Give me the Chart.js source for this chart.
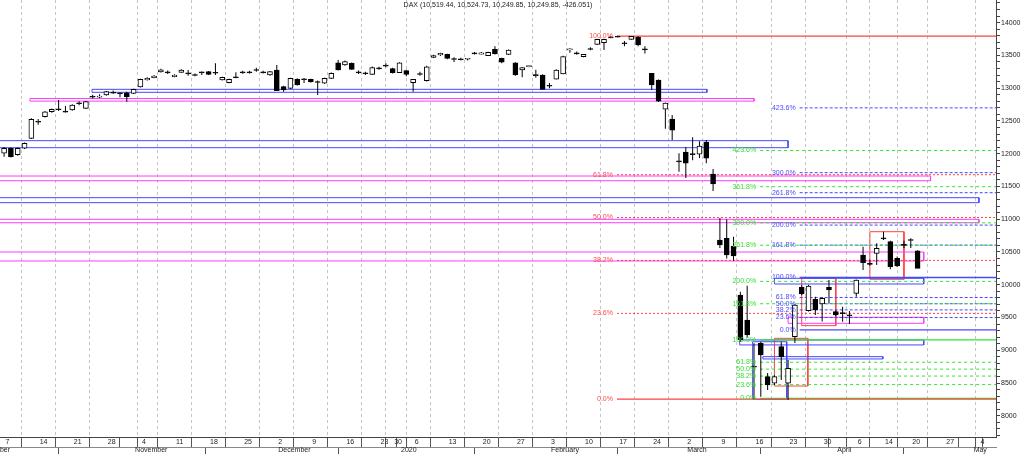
<!DOCTYPE html>
<html>
<head>
<meta charset="utf-8">
<script src="https://cdn.jsdelivr.net/npm/chart.js@4.4.1/dist/chart.umd.min.js"></script>
<style>
  html, body { margin: 0; padding: 0; background: #fff; }
  canvas { display: block; }
</style>
</head>
<body>
<canvas id="chart" width="1024" height="454"></canvas>
<script>
const FONT_FAMILY = '"Liberation Sans", Arial, sans-serif';
const titleText = 'DAX (10,519.44, 10,524.73, 10,249.85, 10,249.85, -426.051)';

// trading days, one candle each (x = position in this list)
const tradingDays = [
    'Oct 7', 'Oct 8', 'Oct 9', 'Oct 10', 'Oct 11', 'Oct 14', 'Oct 15', 'Oct 16', 'Oct 17', 'Oct 18',
    'Oct 21', 'Oct 22', 'Oct 23', 'Oct 24', 'Oct 25', 'Oct 28', 'Oct 29', 'Oct 30', 'Oct 31', 'Nov 1',
    'Nov 4', 'Nov 5', 'Nov 6', 'Nov 7', 'Nov 8', 'Nov 11', 'Nov 12', 'Nov 13', 'Nov 14', 'Nov 15',
    'Nov 18', 'Nov 19', 'Nov 20', 'Nov 21', 'Nov 22', 'Nov 25', 'Nov 26', 'Nov 27', 'Nov 28', 'Nov 29',
    'Dec 2', 'Dec 3', 'Dec 4', 'Dec 5', 'Dec 6', 'Dec 9', 'Dec 10', 'Dec 11', 'Dec 12', 'Dec 13',
    'Dec 16', 'Dec 17', 'Dec 18', 'Dec 19', 'Dec 20', 'Dec 23', 'Dec 27', 'Dec 30', 'Jan 2', 'Jan 3',
    'Jan 6', 'Jan 7', 'Jan 8', 'Jan 9', 'Jan 10', 'Jan 13', 'Jan 14', 'Jan 15', 'Jan 16', 'Jan 17',
    'Jan 20', 'Jan 21', 'Jan 22', 'Jan 23', 'Jan 24', 'Jan 27', 'Jan 28', 'Jan 29', 'Jan 30', 'Jan 31',
    'Feb 3', 'Feb 4', 'Feb 5', 'Feb 6', 'Feb 7', 'Feb 10', 'Feb 11', 'Feb 12', 'Feb 13', 'Feb 14',
    'Feb 17', 'Feb 18', 'Feb 19', 'Feb 20', 'Feb 21', 'Feb 24', 'Feb 25', 'Feb 26', 'Feb 27', 'Feb 28',
    'Mar 2', 'Mar 3', 'Mar 4', 'Mar 5', 'Mar 6', 'Mar 9', 'Mar 10', 'Mar 11', 'Mar 12', 'Mar 13',
    'Mar 16', 'Mar 17', 'Mar 18', 'Mar 19', 'Mar 20', 'Mar 23', 'Mar 24', 'Mar 25', 'Mar 26', 'Mar 27',
    'Mar 30', 'Mar 31', 'Apr 1', 'Apr 2', 'Apr 3', 'Apr 6', 'Apr 7', 'Apr 8', 'Apr 9', 'Apr 14',
    'Apr 15', 'Apr 16', 'Apr 17', 'Apr 20', 'Apr 21'
];

const opens = [
    12006, 12082, 11985, 12082, 12234, 12495, 12564, 12640, 12685, 12650,
    12666, 12775, 12692, 12875, 12862, 12895, 12937, 12928, 12930, 12921,
    13017, 13124, 13159, 13246, 13248, 13174, 13241, 13233, 13207, 13248,
    13251, 13243, 13124, 13083, 13172, 13248, 13248, 13284, 13248, 13200,
    13277, 13022, 12997, 13135, 13142, 13135, 13101, 13074, 13150, 13388,
    13353, 13378, 13248, 13233, 13211, 13310, 13350, 13297, 13236, 13266,
    13083, 13223, 13113, 13470, 13505, 13516, 13452, 13448, 13441, 13538,
    13520, 13495, 13592, 13455, 13516, 13388, 13277, 13327, 13205, 13200,
    13044, 13135, 13216, 13585, 13538, 13480, 13605, 13669, 13694, 13783,
    13792, 13692, 13745, 13776, 13600, 13226, 13124, 12680, 12529, 11890,
    12024, 12000, 11994, 12177, 11690, 10683, 10708, 10590, 9843, 9460,
    8760, 9106, 8597, 8496, 9054, 8496, 9207, 9961, 9604, 9778,
    9706, 9961, 9589, 9575, 9540, 9869, 10454, 10325, 10479, 10715,
    10657, 10404, 10615, 10690, 10519
];
const highs = [
    12100, 12095, 12095, 12170, 12540, 12530, 12650, 12690, 12819, 12727,
    12755, 12800, 12805, 12900, 12905, 12955, 12965, 12935, 12945, 12990,
    13145, 13165, 13200, 13295, 13270, 13210, 13290, 13277, 13225, 13255,
    13260, 13380, 13175, 13145, 13241, 13265, 13265, 13310, 13265, 13262,
    13353, 13035, 13160, 13150, 13155, 13145, 13115, 13160, 13240, 13429,
    13420, 13390, 13270, 13250, 13330, 13325, 13380, 13310, 13395, 13280,
    13140, 13250, 13340, 13510, 13540, 13525, 13470, 13465, 13460, 13550,
    13550, 13555, 13640, 13465, 13590, 13395, 13320, 13350, 13280, 13210,
    13080, 13290, 13495, 13610, 13560, 13520, 13625, 13755, 13755, 13795,
    13800, 13720, 13795, 13795, 13640, 13230, 13130, 12780, 12590, 12005,
    12100, 12250, 12190, 12207, 11766, 11018, 11000, 10733, 9894, 9985,
    9106, 9131, 8654, 8620, 9130, 8852, 9710, 9990, 10000, 9818,
    9810, 10072, 9610, 9665, 9600, 10080, 10580, 10380, 10632, 10810,
    10670, 10430, 10670, 10710, 10525
];
const lows = [
    11954, 11940, 11970, 12070, 12225, 12440, 12550, 12625, 12650, 12630,
    12655, 12740, 12680, 12840, 12850, 12885, 12915, 12860, 12793, 12910,
    13010, 13115, 13150, 13240, 13215, 13165, 13235, 13190, 13180, 13200,
    13200, 13200, 13115, 13075, 13150, 13220, 13225, 13250, 13225, 13190,
    12955, 12946, 12990, 13040, 13080, 13085, 12895, 13065, 13140, 13270,
    13340, 13280, 13215, 13200, 13200, 13280, 13320, 13225, 13230, 13180,
    12946, 13190, 13100, 13460, 13490, 13440, 13400, 13420, 13420, 13515,
    13515, 13490, 13515, 13380, 13505, 13190, 13165, 13320, 13160, 12975,
    13000, 13130, 13210, 13540, 13510, 13470, 13580, 13660, 13582, 13760,
    13775, 13640, 13740, 13640, 13530, 12971, 12790, 12380, 12208, 11725,
    11628, 11900, 11935, 11853, 11430, 10560, 10400, 10367, 9130, 9190,
    8255, 8291, 8394, 8470, 8546, 8240, 9110, 9840, 9590, 9538,
    9440, 9717, 9520, 9436, 9400, 9818, 10225, 10290, 10301, 10683,
    10235, 10270, 10560, 10560, 10250
];
const closes = [
    12082, 11954, 12082, 12158, 12524, 12480, 12640, 12677, 12670, 12635,
    12743, 12762, 12793, 12862, 12877, 12946, 12923, 12914, 12869, 12982,
    13135, 13150, 13185, 13281, 13234, 13200, 13277, 13218, 13193, 13234,
    13211, 13229, 13165, 13135, 13158, 13234, 13234, 13270, 13234, 13251,
    12961, 12971, 13150, 13048, 13128, 13094, 13087, 13150, 13226, 13277,
    13404, 13287, 13234, 13219, 13312, 13295, 13335, 13236, 13388, 13211,
    13135, 13209, 13327, 13495, 13531, 13455, 13438, 13434, 13455, 13524,
    13540, 13546, 13521, 13395, 13582, 13200, 13312, 13345, 13190, 12982,
    13030, 13277, 13480, 13600, 13524, 13516, 13590, 13745, 13745, 13768,
    13777, 13677, 13790, 13658, 13585, 13048, 12802, 12772, 12360, 11875,
    11856, 11985, 12116, 11933, 11538, 10607, 10454, 10438, 9161, 9232,
    8742, 8928, 8470, 8597, 8902, 8725, 9690, 9858, 9981, 9615,
    9793, 9920, 9538, 9560, 9525, 10072, 10336, 10310, 10555, 10700,
    10275, 10286, 10600, 10676, 10250
];

// x axis: weekly ticks and month markers (positions in trading days)
const weekTicks = [0, 5, 10, 15, 20, 25, 30, 35, 40, 45, 50, 55, 57, 60, 65, 70, 75, 80, 85, 90,
    95, 100, 105, 110, 115, 120, 125, 129, 133, 138, 143];
const weekLabels = ['7', '14', '21', '28', '4', '11', '18', '25', '2', '9', '16', '23', '30', '6', '13', '20',
    '27', '3', '10', '17', '24', '2', '9', '16', '23', '30', '6', '14', '20', '27', '4'];
const monthTicks = [-3, 19, 40, 58, 80, 100, 122, 142];
const monthLabels = ['October', 'November', 'December', '2020', 'February', 'March', 'April', 'May'];

const X_MIN = -0.6;
const X_MAX = 145.5;
const Y_MIN = 7676;
const Y_MAX = 14345;

// fibonacci retracements / extensions
const redFibLow = 8255;
const redFibHigh = 13795;
const redFibFrom = 89.9;
const redFibLevels = [0, 0.236, 0.382, 0.5, 0.618, 1];

const greenFibLow = 8265;
const greenFibHigh = 9158;
const greenFibFrom = 110.9;
const greenFibLevels = [0, 0.236, 0.382, 0.5, 0.618, 1, 1.618, 2, 2.618, 3, 3.618, 4.236];

const blueFibLow = 9310;
const blueFibHigh = 10110;
const blueFibFrom = 116.7;
const blueFibLevels = [0, 0.236, 0.382, 0.5, 0.618, 1, 1.618, 2, 2.618, 3, 4.236];

// zones: [from day, to day, top price, bottom price]
const blueZones = [
    [12.9, 103.1, 12982, 12936],
    [-1, 115, 12198, 12091],
    [-1, 143, 11328, 11252],
    [113, 134.9, 10098, 10011],
    [107.9, 134.9, 9157, 9081],
    [109.8, 114.8, 9130, 8252],
    [111.3, 128.9, 8902, 8867]
];
const pinkZones = [
    [3.8, 110, 12842, 12802],
    [-1, 135.9, 11659, 11587],
    [-1, 143, 10998, 10946],
    [-1, 134.9, 10499, 10362],
    [115, 134.9, 9503, 9411]
];
const redBoxes = [
    [127, 132, 10809, 10083],
    [117, 122, 10098, 9375],
    [113, 117.9, 9182, 8454]
];

const RED = '#ff4040';
const GREEN = '#2fe62f';
const BLUE = '#4848ff';
const PINK = '#ff3cff';

function levelLine(from, value, color, dash, width) {
    return {
        type: 'line',
        data: [{ x: from, y: value }, { x: X_MAX + 1, y: value }],
        borderColor: color,
        borderWidth: width,
        borderDash: dash,
        pointRadius: 0,
        fill: false,
        order: 2,
        xAxisID: 'x',
        yAxisID: 'y'
    };
}

function zoneBox(zone, color) {
    const [x1, x2, top, bottom] = zone;
    return {
        type: 'line',
        data: [
            { x: x1, y: top }, { x: x2, y: top }, { x: x2, y: bottom },
            { x: x1, y: bottom }, { x: x1, y: top }
        ],
        borderColor: color,
        borderWidth: 1,
        pointRadius: 0,
        fill: false,
        order: 2,
        xAxisID: 'x',
        yAxisID: 'y'
    };
}

const fibSets = [
    { low: redFibLow, high: redFibHigh, from: redFibFrom, levels: redFibLevels, color: RED, text: '#ff4a4a', dash: [2, 2] },
    { low: greenFibLow, high: greenFibHigh, from: greenFibFrom, levels: greenFibLevels, color: GREEN, text: '#33e033', dash: [3, 3] },
    { low: blueFibLow, high: blueFibHigh, from: blueFibFrom, levels: blueFibLevels, color: BLUE, text: '#4a4aff', dash: [3, 2] }
];

const lineDatasets = [];
fibSets.forEach(set => {
    set.levels.forEach(r => {
        const solid = r === 0 || r === 1;
        const value = set.low + r * (set.high - set.low);
        lineDatasets.push(levelLine(set.from, value, set.color, solid ? [] : set.dash, solid ? 1.3 : 1));
    });
});
blueZones.forEach(z => lineDatasets.push(zoneBox(z, BLUE)));
pinkZones.forEach(z => lineDatasets.push(zoneBox(z, PINK)));
redBoxes.forEach(z => lineDatasets.push(zoneBox(z, RED)));

const bodyData = tradingDays.map((d, i) => ({ x: i, y: [opens[i], closes[i]] }));
const wickData = tradingDays.map((d, i) => ({ x: i, y: [lows[i], highs[i]] }));
const bodyColors = tradingDays.map((d, i) => closes[i] >= opens[i] ? '#ffffff' : '#000000');

// labels of the fib levels and the title line
const overlayText = {
    id: 'overlayText',
    afterDatasetsDraw(chart) {
        const { ctx, chartArea } = chart;
        const x = chart.scales.x;
        const y = chart.scales.y;
        ctx.save();
        ctx.font = '7px ' + FONT_FAMILY;
        ctx.textAlign = 'right';
        ctx.textBaseline = 'middle';
        fibSets.forEach(set => {
            ctx.fillStyle = set.text;
            set.levels.forEach(r => {
                const value = set.low + r * (set.high - set.low);
                ctx.fillText((r * 100).toFixed(1) + '%', x.getPixelForValue(set.from) - 4, y.getPixelForValue(value));
            });
        });
        ctx.textAlign = 'center';
        ctx.fillStyle = '#222';
        ctx.fillText(titleText, (chartArea.left + chartArea.right) / 2, 5);
        ctx.restore();
    }
};

const tickFont = { size: 7, family: FONT_FAMILY };
const xTickValues = weekTicks.concat(monthTicks.filter(v => v >= 0 && !weekTicks.includes(v)))
    .sort((a, b) => a - b);

// the bottom axes must not push the plot inwards for labels that overhang
function fixBottomAxis(axis, height) {
    axis.height = height;
    axis.paddingLeft = 0;
    axis.paddingRight = 0;
}

new Chart(document.getElementById('chart'), {
    type: 'bar',
    data: {
        datasets: [
            {
                type: 'bar',
                data: bodyData,
                backgroundColor: bodyColors,
                borderColor: '#000',
                borderWidth: 1,
                borderSkipped: false,
                barThickness: 5,
                maxBarThickness: 5,
                grouped: false,
                order: 0,
                xAxisID: 'x',
                yAxisID: 'y'
            },
            {
                type: 'bar',
                data: wickData,
                backgroundColor: '#000',
                borderWidth: 0,
                inflateAmount: 0,
                barThickness: 1,
                maxBarThickness: 1,
                grouped: false,
                order: 1,
                xAxisID: 'x',
                yAxisID: 'y'
            },
            ...lineDatasets
        ]
    },
    options: {
        responsive: false,
        animation: false,
        devicePixelRatio: 1,
        events: [],
        layout: { padding: 0 },
        plugins: {
            legend: { display: false },
            tooltip: { enabled: false }
        },
        scales: {
            x: {
                type: 'linear',
                position: 'bottom',
                weight: 0,
                min: X_MIN,
                max: X_MAX,
                offset: false,
                afterBuildTicks: axis => { axis.ticks = xTickValues.map(v => ({ value: v })); },
                afterFit: axis => fixBottomAxis(axis, 10),
                ticks: {
                    callback: value => {
                        const k = weekTicks.indexOf(value);
                        return k >= 0 ? weekLabels[k] : '';
                    },
                    align: 'start',
                    labelOffset: 1.5,
                    padding: -9,
                    autoSkip: false,
                    maxRotation: 0,
                    minRotation: 0,
                    font: tickFont,
                    color: '#222'
                },
                grid: {
                    color: ctx => (ctx.tick && weekTicks.includes(ctx.tick.value)) ? '#c4c4c4' : 'rgba(0,0,0,0)',
                    lineWidth: 1,
                    tickLength: 10,
                    tickColor: '#555'
                },
                border: { color: '#444', dash: [3, 3] }
            },
            x2: {
                type: 'linear',
                position: 'bottom',
                weight: 1,
                min: X_MIN,
                max: X_MAX,
                offset: false,
                afterBuildTicks: axis => { axis.ticks = monthTicks.map(v => ({ value: v })); },
                afterFit: axis => fixBottomAxis(axis, 7),
                ticks: {
                    callback: value => monthLabels[monthTicks.indexOf(value)],
                    align: 'start',
                    labelOffset: 1.5,
                    padding: -8,
                    autoSkip: false,
                    maxRotation: 0,
                    minRotation: 0,
                    font: tickFont,
                    color: '#222'
                },
                grid: {
                    drawOnChartArea: false,
                    tickLength: 7,
                    tickColor: '#555'
                },
                border: { color: '#888' }
            },
            y: {
                type: 'linear',
                position: 'right',
                min: Y_MIN,
                max: Y_MAX,
                afterBuildTicks: axis => {
                    const ticks = [];
                    for (let v = 7700; v <= 14300; v += 100) ticks.push({ value: v });
                    axis.ticks = ticks;
                },
                afterFit: axis => {
                    axis.width = 28;
                    axis.paddingTop = 0;
                    axis.paddingBottom = 0;
                },
                ticks: {
                    callback: value => value % 500 === 0 ? String(value) : '',
                    autoSkip: false,
                    padding: 1,
                    font: tickFont,
                    color: '#222'
                },
                grid: {
                    drawOnChartArea: false,
                    tickLength: 4,
                    tickColor: '#444'
                },
                border: { color: '#444' }
            }
        }
    },
    plugins: [overlayText]
});
</script>
</body>
</html>
